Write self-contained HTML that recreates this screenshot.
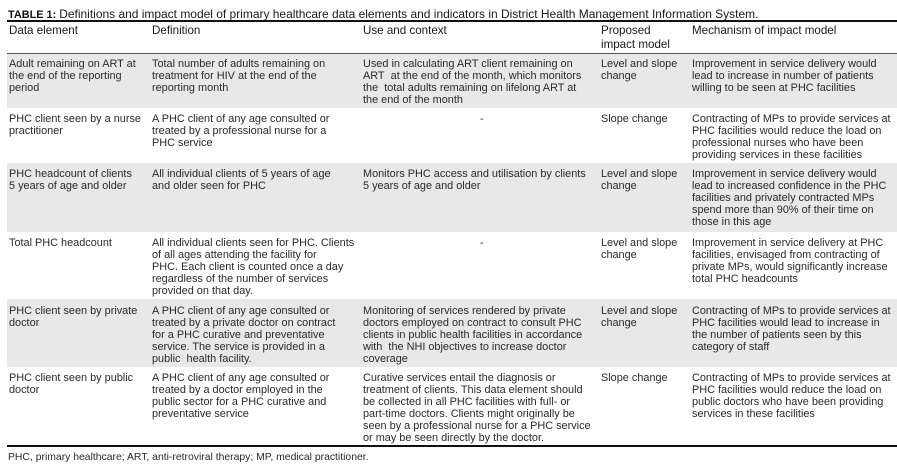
<!DOCTYPE html>
<html>
<head>
<meta charset="utf-8">
<style>
html,body{margin:0;padding:0;}
body{width:897px;height:476px;position:relative;overflow:hidden;background:#fff;
font-family:"Liberation Sans",Arial,sans-serif;font-size:10.9px;line-height:12px;color:#2a2a2a;}
.t{position:absolute;white-space:nowrap;}
.h{position:absolute;white-space:nowrap;font-size:11.6px;line-height:14px;color:#1a1a1a;}
.bg{position:absolute;left:7px;width:890px;background:#e8e8e8;}
.ln{position:absolute;left:7px;width:890px;}
</style>
</head>
<body>
<div class="t" style="left:8px;top:8px;color:#1a1a1a;"><b style="color:#111;">TABLE 1:</b> <span style="font-size:11.98px;">Definitions and impact model of primary healthcare data elements and indicators in District Health Management Information System.</span></div>
<div class="ln" style="top:20px;height:2px;background:#111;"></div>

<div class="h" style="left:9px;top:24px;">Data element</div>
<div class="h" style="left:152px;top:24px;">Definition</div>
<div class="h" style="left:363px;top:24px;">Use and context</div>
<div class="h" style="left:601px;top:24px;">Proposed<br>impact model</div>
<div class="h" style="left:692px;top:24px;">Mechanism of impact model</div>
<div class="ln" style="top:53px;height:1px;background:#555;"></div>

<div class="bg" style="top:54px;height:54px;"></div>
<div class="bg" style="top:163px;height:69px;"></div>
<div class="bg" style="top:299px;height:68px;"></div>

<!-- Row 1 -->
<div class="t" style="left:9px;top:58px;">Adult remaining on ART at<br>the end of the reporting<br>period</div>
<div class="t" style="left:152px;top:58px;">Total number of adults remaining on<br>treatment for HIV at the end of the<br>reporting month</div>
<div class="t" style="left:363px;top:58px;">Used in calculating ART client remaining on<br>ART&nbsp; at the end of the month, which monitors<br>the&nbsp; total adults remaining on lifelong ART at<br>the end of the month</div>
<div class="t" style="left:601px;top:58px;">Level and slope<br>change</div>
<div class="t" style="left:692px;top:58px;">Improvement in service delivery would<br>lead to increase in number of patients<br>willing to be seen at PHC facilities</div>

<!-- Row 2 -->
<div class="t" style="left:9px;top:113px;">PHC client seen by a nurse<br>practitioner</div>
<div class="t" style="left:152px;top:113px;">A PHC client of any age consulted or<br>treated by a professional nurse for a<br>PHC service</div>
<div class="t" style="left:480px;top:113px;">-</div>
<div class="t" style="left:601px;top:113px;">Slope change</div>
<div class="t" style="left:692px;top:113px;">Contracting of MPs to provide services at<br>PHC facilities would reduce the load on<br>professional nurses who have been<br>providing services in these facilities</div>

<!-- Row 3 -->
<div class="t" style="left:9px;top:168px;">PHC headcount of clients<br>5 years of age and older</div>
<div class="t" style="left:152px;top:168px;">All individual clients of 5 years of age<br>and older seen for PHC</div>
<div class="t" style="left:363px;top:168px;">Monitors PHC access and utilisation by clients<br>5 years of age and older</div>
<div class="t" style="left:601px;top:168px;">Level and slope<br>change</div>
<div class="t" style="left:692px;top:168px;">Improvement in service delivery would<br>lead to increased confidence in the PHC<br>facilities and privately contracted MPs<br>spend more than 90% of their time on<br>those in this age</div>

<!-- Row 4 -->
<div class="t" style="left:9px;top:237px;">Total PHC headcount</div>
<div class="t" style="left:152px;top:237px;">All individual clients seen for PHC. Clients<br>of all ages attending the facility for<br>PHC. Each client is counted once a day<br>regardless of the number of services<br>provided on that day.</div>
<div class="t" style="left:480px;top:237px;">-</div>
<div class="t" style="left:601px;top:237px;">Level and slope<br>change</div>
<div class="t" style="left:692px;top:237px;">Improvement in service delivery at PHC<br>facilities, envisaged from contracting of<br>private MPs, would significantly increase<br>total PHC headcounts</div>

<!-- Row 5 -->
<div class="t" style="left:9px;top:305px;">PHC client seen by private<br>doctor</div>
<div class="t" style="left:152px;top:305px;">A PHC client of any age consulted or<br>treated by a private doctor on contract<br>for a PHC curative and preventative<br>service. The service is provided in a<br>public&nbsp; health facility.</div>
<div class="t" style="left:363px;top:305px;">Monitoring of services rendered by private<br>doctors employed on contract to consult PHC<br>clients in public health facilities in accordance<br>with&nbsp; the NHI objectives to increase doctor<br>coverage</div>
<div class="t" style="left:601px;top:305px;">Level and slope<br>change</div>
<div class="t" style="left:692px;top:305px;">Contracting of MPs to provide services at<br>PHC facilities would lead to increase in<br>the number of patients seen by this<br>category of staff</div>

<!-- Row 6 -->
<div class="t" style="left:9px;top:372px;">PHC client seen by public<br>doctor</div>
<div class="t" style="left:152px;top:372px;">A PHC client of any age consulted or<br>treated by a doctor employed in the<br>public sector for a PHC curative and<br>preventative service</div>
<div class="t" style="left:363px;top:372px;">Curative services entail the diagnosis or<br>treatment of clients. This data element should<br>be collected in all PHC facilities with full- or<br>part-time doctors. Clients might originally be<br>seen by a professional nurse for a PHC service<br>or may be seen directly by the doctor.</div>
<div class="t" style="left:601px;top:372px;">Slope change</div>
<div class="t" style="left:692px;top:372px;">Contracting of MPs to provide services at<br>PHC facilities would reduce the load on<br>public doctors who have been providing<br>services in these facilities</div>

<div class="ln" style="top:445px;height:2px;background:#111;"></div>
<div class="t" style="left:8px;top:452px;font-size:10.4px;">PHC, primary healthcare; ART, anti-retroviral therapy; MP, medical practitioner.</div>
</body>
</html>
